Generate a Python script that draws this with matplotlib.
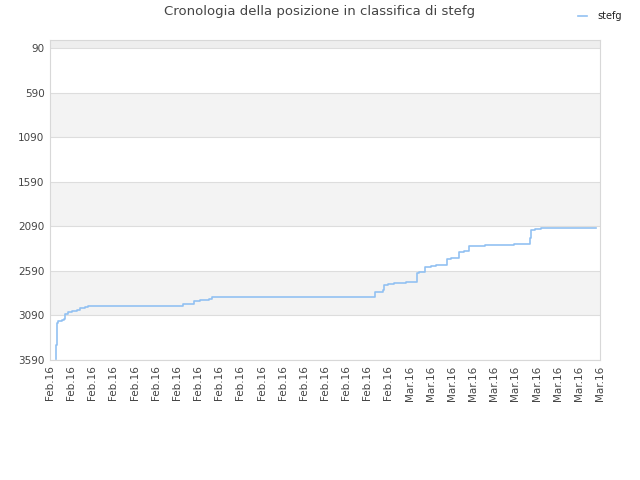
import matplotlib
matplotlib.use("Agg")
import matplotlib.pyplot as plt

# data
x_days = [0.270, 0.294, 0.318, 0.332, 0.393, 0.569, 0.678, 0.711, 0.867, 1.043,
          1.265, 1.422, 1.659, 1.815, 6.270, 6.791, 7.109, 7.502, 7.664, 15.370,
          15.720, 15.796, 15.957, 16.270, 16.825, 17.346, 17.455, 17.739, 18.009,
          18.246, 18.768, 18.957, 19.322, 19.588, 19.796, 20.569, 21.957, 22.668,
          22.716, 22.905, 23.223, 23.379, 25.829]
ranks = [3582, 3422, 3385, 3172, 3157, 3140, 3134, 3078, 3052, 3040,
         3026, 3012, 2996, 2981, 2966, 2925, 2914, 2906, 2880, 2831,
         2805, 2753, 2738, 2726, 2715, 2618, 2603, 2551, 2536,
         2525, 2461, 2446, 2379, 2364, 2311, 2300, 2285, 2225,
         2132, 2124, 2113, 2106, 2106]
tick_labels = ["Feb.16"] * 17 + ["Mar.16"] * 10
y_ticks = [90, 590, 1090, 1590, 2090, 2590, 3090, 3590]
series_name = "stefg"
title = "Cronologia della posizione in classifica di stefg"

fig = plt.figure(figsize=(6.4, 4.8), dpi=100)
ax = fig.add_axes([50/640, 1-360/480, 550/640, 320/480])

ax.set_ylim(3590, 0)
ax.set_xlim(0, len(tick_labels) - 1)

# bands
ax.axhspan(0, y_ticks[0], color="#eeeeee", zorder=0, lw=0)
for i in range(1, len(y_ticks) - 1, 2):
    ax.axhspan(y_ticks[i], y_ticks[i+1], color="#f3f3f3", zorder=0, lw=0)
for y in y_ticks:
    ax.axhline(y, color="#dddddd", lw=0.8, zorder=1)

line, = ax.plot(x_days, ranks, drawstyle="steps-post", color="#92c1f2", lw=1.2,
                zorder=3, label=series_name)

ax.set_yticks(y_ticks)
ax.set_yticklabels([str(v) for v in y_ticks])
ax.set_xticks(range(len(tick_labels)))
ax.set_xticklabels(tick_labels, rotation=90)
ax.tick_params(axis="both", length=0, labelsize=7.5, colors="#444444", pad=4)
for s in ax.spines.values():
    s.set_color("#d8d8d8")
    s.set_linewidth(0.8)

fig.text(0.5, 1-12/480, title, ha="center", va="center", fontsize=9.5, color="#444444")
fig.legend(handles=[line], loc="upper right", bbox_to_anchor=(0.985, 0.995),
           frameon=False, fontsize=7, handlelength=1.0, handletextpad=1.0,
           labelcolor="#222222")

fig.savefig("out.png", dpi=100)
